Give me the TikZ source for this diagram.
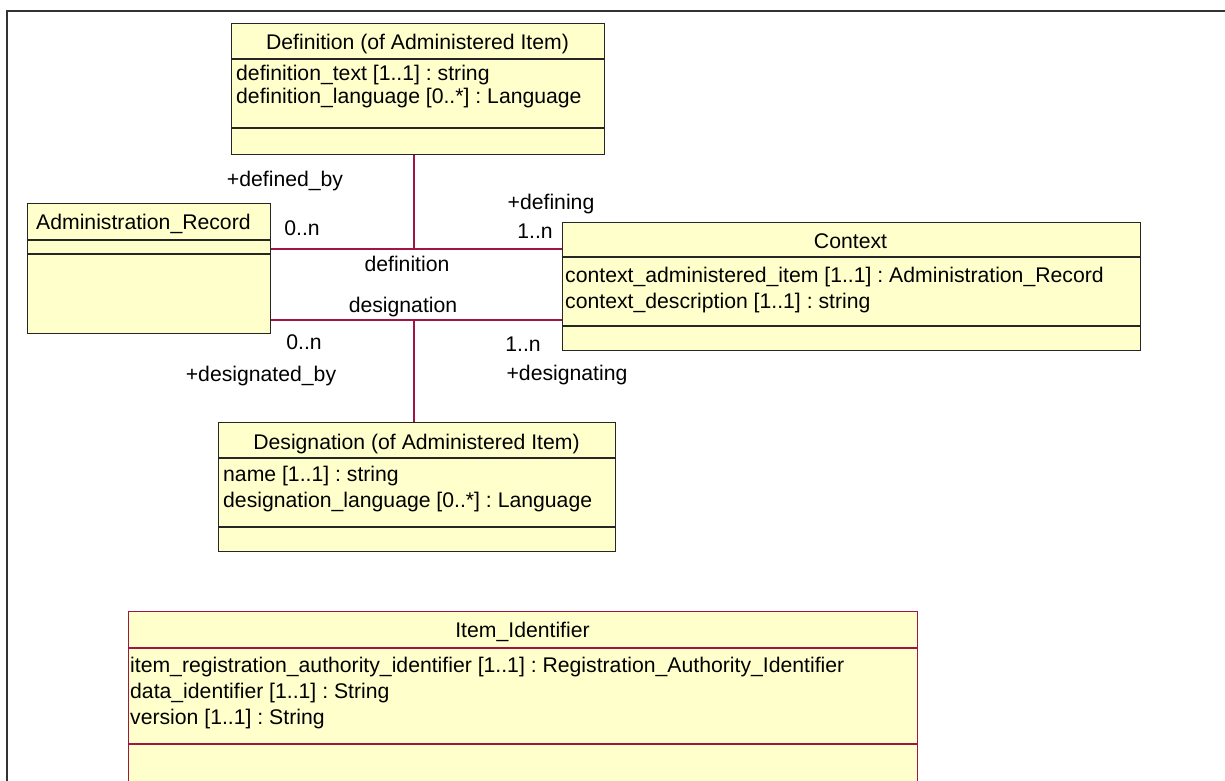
\documentclass[tikz,border=0pt]{standalone}
\usepackage{fontspec}
\setmainfont{Liberation Sans}
\usepackage{tikz}
\definecolor{umlyellow}{RGB}{255,255,204}
\definecolor{assocred}{RGB}{160,20,70}
\frenchspacing

\begin{document}
\begin{tikzpicture}[x=1pt,y=-1pt,
	font=\fontsize{21.2}{26}\selectfont,
	classbox/.style={draw=black!85,line width=1.4pt,fill=umlyellow,anchor=north west,inner sep=0pt},
	redbox/.style={classbox,draw=assocred},
	divider/.style={black!85,line width=1.4pt},
	classname/.style={anchor=base,inner sep=0pt},
	member/.style={anchor=base west,inner sep=0pt},
	rolelabel/.style={inner sep=0pt},
	assoc/.style={draw=assocred,line width=1.2pt}]
		\useasboundingbox (0,0) rectangle (1225,780);
		\fill[white] (0,0) rectangle (1225,780);
		\draw[line width=2pt,black!80] (7,790) -- (7,11) -- (1235,11);

		\node[classbox,minimum width=373pt,minimum height=131pt] (defn) at (231,23) {};
		\foreach \y in {59,128}{
			\draw[divider] (defn.west |- 0,\y) -- (defn.east |- 0,\y);
		}
		\node[classname] (defnname) at (417.5,49) {Definition (of Administered Item)};
		\node[member] (defntext) at (236,80) {definition\_text [1..1] : string};
		\node[member] (defnlang) at (236,103) {definition\_language [0..*] : Language};

		\node[classbox,minimum width=243pt,minimum height=130pt] (admin) at (27,203) {};
		\foreach \y in {240,254}{
			\draw[divider] (admin.west |- 0,\y) -- (admin.east |- 0,\y);
		}
		\node[member] (adminname) at (36,229) {Administration\_Record};

		\node[classbox,minimum width=578.5pt,minimum height=128pt] (context) at (561.5,222) {};
		\foreach \y in {257,326}{
			\draw[divider] (context.west |- 0,\y) -- (context.east |- 0,\y);
		}
		\node[classname] (contextname) at (850.5,248) {Context};
		\node[member] (contextitem) at (565,282) {context\_administered\_item [1..1] : Administration\_Record};
		\node[member] (contextdesc) at (565,308) {context\_description [1..1] : string};

		\node[classbox,minimum width=397pt,minimum height=129pt] (desig) at (218,422) {};
		\foreach \y in {458,527}{
			\draw[divider] (desig.west |- 0,\y) -- (desig.east |- 0,\y);
		}
		\node[classname] (designame) at (416.5,449) {Designation (of Administered Item)};
		\node[member] (designame) at (223,481) {name [1..1] : string};
		\node[member] (desiglang) at (223,507) {designation\_language [0..*] : Language};

		\node[redbox,minimum width=789pt,minimum height=200pt] (itemid) at (128,611) {};
		\foreach \y in {648,744}{
			\draw[divider,assocred] (itemid.west |- 0,\y) -- (itemid.east |- 0,\y);
		}
		\node[classname] (itemidname) at (522.5,637.5) {Item\_Identifier};
		\node[member] (itemra) at (130,672) {item\_registration\_authority\_identifier [1..1] : Registration\_Authority\_Identifier};
		\node[member] (itemdata) at (130,698) {data\_identifier [1..1] : String};
		\node[member] (itemversion) at (130,724) {version [1..1] : String};

		\coordinate (defjoin) at (414,249);
		\coordinate (desjoin) at (414,320);
		\draw[assoc] (admin.east |- defjoin) -- (context.west |- defjoin);
		\draw[assoc] (defn.south -| defjoin) -- (defjoin);
		\draw[assoc] (admin.east |- desjoin) -- (context.west |- desjoin);
		\draw[assoc] (desjoin) -- (desig.north -| desjoin);

		\node[rolelabel] (definedby) at (285,181) {+defined\_by};
		\node[rolelabel] (defadminmult) at (302,228) {0..n};
		\node[rolelabel] (defining) at (551,204) {+defining};
		\node[rolelabel] (defcontextmult) at (535,231) {1..n};
		\node[rolelabel] (defname) at (407,264) {definition};
		\node[rolelabel] (desname) at (403,307) {designation};
		\node[rolelabel] (desadminmult) at (304,342) {0..n};
		\node[rolelabel] (descontextmult) at (523,344) {1..n};
		\node[rolelabel] (designatedby) at (261,376) {+designated\_by};
		\node[rolelabel] (designating) at (567,375) {+designating};
\end{tikzpicture}
\end{document}
